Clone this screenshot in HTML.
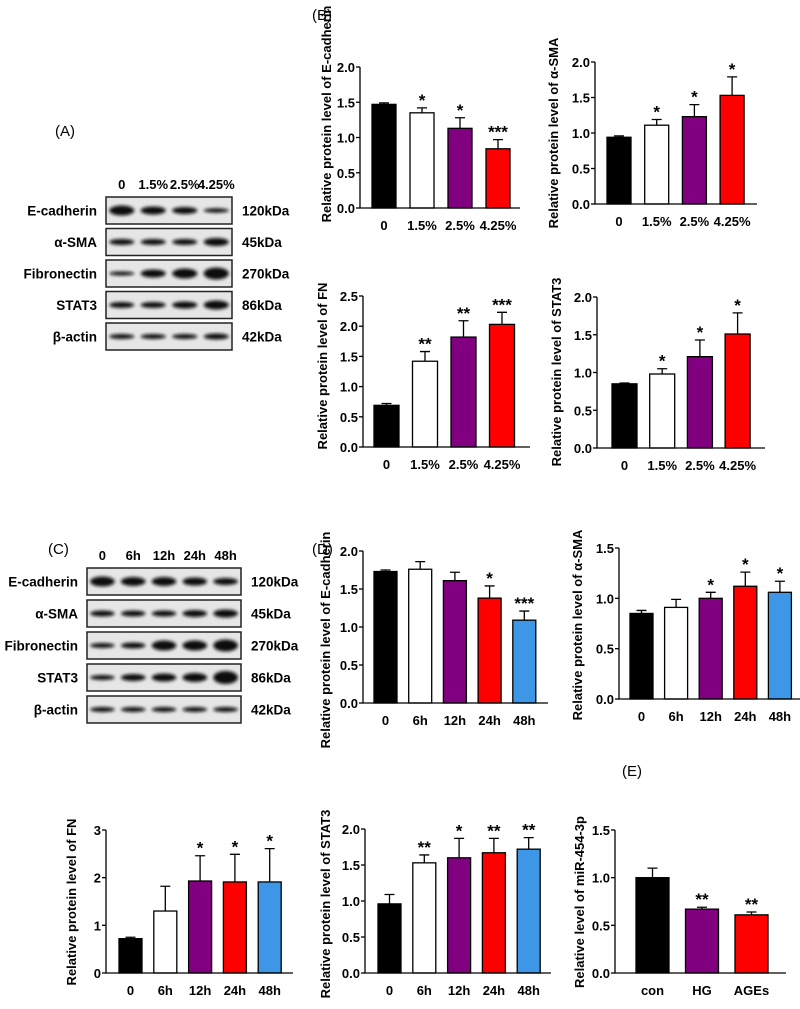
<!DOCTYPE html>
<html><head><meta charset="utf-8">
<style>
html,body{margin:0;padding:0;background:#fff;}
svg{display:block;font-family:"Liberation Sans",Arial,sans-serif;}
</style></head>
<body>
<svg id="fig" width="800" height="1009" viewBox="0 0 800 1009">
<defs>
<filter id="blur" x="-30%" y="-100%" width="160%" height="300%"><feGaussianBlur stdDeviation="1.6"/></filter>
</defs>
<text x="55" y="136" font-size="15">(A)</text>
<text x="312" y="20" font-size="15">(B)</text>
<text x="48" y="554" font-size="15">(C)</text>
<text x="312" y="554" font-size="15">(D)</text>
<text x="622" y="776" font-size="15">(E)</text>
<g id="blots"></g>
<g id="charts"></g>
</svg>
<script>
// ---- Chart data ----
const catsConc = ["0","1.5%","2.5%","4.25%"];
const catsTime = ["0","6h","12h","24h","48h"];
const catsE = ["con","HG","AGEs"];
const colsConc = ["#000000","#ffffff","#800080","#ff0000"];
const colsTime = ["#000000","#ffffff","#800080","#ff0000","#3d97e6"];
const colsE = ["#000000","#800080","#ff0000"];

const valsB1 = [1.47,1.35,1.13,0.84];
const errB1 = [0.02,0.07,0.15,0.13];
const starsB1 = ["","*","*","***"];
const valsB2 = [0.94,1.11,1.23,1.53];
const errB2 = [0.02,0.08,0.17,0.26];
const starsB2 = ["","*","*","*"];
const valsB3 = [0.69,1.42,1.82,2.03];
const errB3 = [0.03,0.16,0.27,0.20];
const starsB3 = ["","**","**","***"];
const valsB4 = [0.85,0.98,1.21,1.51];
const errB4 = [0.01,0.07,0.22,0.28];
const starsB4 = ["","*","*","*"];
const valsD1 = [1.73,1.76,1.61,1.38,1.09];
const errD1 = [0.02,0.10,0.11,0.16,0.12];
const starsD1 = ["","","","*","***"];
const valsD2 = [0.85,0.91,1.00,1.12,1.06];
const errD2 = [0.03,0.08,0.06,0.14,0.11];
const starsD2 = ["","","*","*","*"];
const valsD3 = [0.72,1.30,1.93,1.91,1.91];
const errD3 = [0.03,0.52,0.53,0.58,0.70];
const starsD3 = ["","","*","*","*"];
const valsD4 = [0.96,1.53,1.60,1.67,1.72];
const errD4 = [0.13,0.11,0.27,0.20,0.16];
const starsD4 = ["","**","*","**","**"];
const valsE = [1.00,0.67,0.61];
const errE = [0.10,0.02,0.03];
const starsE = ["","**","**"];

const ticks2 = ["0.0","0.5","1.0","1.5","2.0"];
const ticks25 = ["0.0","0.5","1.0","1.5","2.0","2.5"];
const ticks15 = ["0.0","0.5","1.0","1.5"];
const ticks3 = ["0","1","2","3"];

const NS = "http://www.w3.org/2000/svg";
function mk(tag, attrs, parent){const e=document.createElementNS(NS,tag);for(const k in attrs)e.setAttribute(k,attrs[k]);parent.appendChild(e);return e;}

function chart(o){
  const g = mk("g",{},document.getElementById("charts"));
  
  
  const max = parseFloat(o.ticks[o.ticks.length-1]);
  const ys = v => o.y0 - (v/max)*(o.y0-o.yTop);
  const xs = i => o.bx + i*o.sp;
  o.vals.forEach((v,i)=>{
    const x = xs(i), y = ys(v), ye = ys(v+o.err[i]);
    const eb = mk("path",{d:`M${x+o.bw/2} ${y}V${ye}M${x+o.bw/2-5} ${ye}H${x+o.bw/2+5}`,stroke:"#000","stroke-width":1.3,fill:"none"},g);
    
    
    const r = mk("rect",{x:x,y:y,width:o.bw,height:o.y0-y,fill:o.cols[i],stroke:"#000","stroke-width":1.3},g);
    
    
    if(o.stars[i]){
      const s = mk("text",{x:x+o.bw/2,y:ye-2,"font-size":17,"font-weight":"bold","text-anchor":"middle"},g);
      s.textContent = o.stars[i];
      
      
    }
    const t = mk("text",{x:x+o.bw/2,y:o.y0+22,"font-size":13,"font-weight":"bold","text-anchor":"middle"},g);
    t.textContent = o.cats[i];
    
    
  });
  const ax = mk("path",{d:`M${o.x0} ${o.yTop}V${o.y0}H${o.x1}`,stroke:"#000","stroke-width":1.3,fill:"none"},g);
  
  
  o.ticks.forEach(tk=>{
    const y = ys(parseFloat(tk));
    mk("line",{x1:o.x0-4,x2:o.x0,y1:y,y2:y,stroke:"#000","stroke-width":1.3},g);
    const t = mk("text",{x:o.x0-5,y:y+5,"font-size":13,"font-weight":"bold","text-anchor":"end"},g);
    t.textContent = tk;
    
    
  });
  const tt = mk("text",{x:0,y:0,"font-size":13,"font-weight":"bold","text-anchor":"middle",transform:`translate(${o.tx},${o.ty}) rotate(-90)`},g);
  tt.textContent = o.title;
  
  
}

chart({name:"chart-b-ecadherin",x0:360,x1:520,yTop:67,y0:208,ticks:ticks2,bx:372,sp:38,bw:24,vals:valsB1,err:errB1,stars:starsB1,cats:catsConc,cols:colsConc,title:"Relative protein level of E-cadherin",tx:331,ty:114});
chart({name:"chart-b-asma",x0:595,x1:757,yTop:62,y0:204,ticks:ticks2,bx:607,sp:37.7,bw:24,vals:valsB2,err:errB2,stars:starsB2,cats:catsConc,cols:colsConc,title:"Relative protein level of α-SMA",tx:558,ty:133});
chart({name:"chart-b-fn",x0:363,x1:530,yTop:296,y0:447,ticks:ticks25,bx:374,sp:38.5,bw:25,vals:valsB3,err:errB3,stars:starsB3,cats:catsConc,cols:colsConc,title:"Relative protein level of FN",tx:327,ty:366});
chart({name:"chart-b-stat3",x0:597,x1:765,yTop:297,y0:448,ticks:ticks2,bx:612,sp:37.7,bw:25,vals:valsB4,err:errB4,stars:starsB4,cats:catsConc,cols:colsConc,title:"Relative protein level of STAT3",tx:561,ty:372});
chart({name:"chart-d-ecadherin",x0:363,x1:548,yTop:551,y0:703,ticks:ticks2,bx:374,sp:34.7,bw:23,vals:valsD1,err:errD1,stars:starsD1,cats:catsTime,cols:colsTime,title:"Relative protein level of E-cadherin",tx:330,ty:640});
chart({name:"chart-d-asma",x0:619,x1:800,yTop:548,y0:699,ticks:ticks15,bx:630,sp:34.6,bw:23,vals:valsD2,err:errD2,stars:starsD2,cats:catsTime,cols:colsTime,title:"Relative protein level of α-SMA",tx:582,ty:625});
chart({name:"chart-d-fn",x0:106,x1:293,yTop:830,y0:973,ticks:ticks3,bx:119,sp:34.8,bw:23,vals:valsD3,err:errD3,stars:starsD3,cats:catsTime,cols:colsTime,title:"Relative protein level of FN",tx:76,ty:902});
chart({name:"chart-d-stat3",x0:365,x1:551,yTop:829,y0:973,ticks:ticks2,bx:378,sp:34.8,bw:23,vals:valsD4,err:errD4,stars:starsD4,cats:catsTime,cols:colsTime,title:"Relative protein level of STAT3",tx:330,ty:904});
chart({name:"chart-e-mir454",x0:615,x1:786,yTop:830,y0:973,ticks:ticks15,bx:636,sp:49.5,bw:33,vals:valsE,err:errE,stars:starsE,cats:catsE,cols:colsE,title:"Relative level of miR-454-3p",tx:584,ty:902});

// ---- Western blots ----
const rowsBlot = ["E-cadherin","α-SMA","Fibronectin","STAT3","β-actin"];
const kdaBlot = ["120kDa","45kDa","270kDa","86kDa","42kDa"];
const bandA = [[5,4,3.5,2.2],[3,3,3,4],[2,4,5,6],[3,3,3.5,4.5],[2.5,2.5,2.5,3]];
const bandC = [[5,4.5,4.5,4,3.5],[3,3,3,3.5,4],[2.5,3,5,5,6],[2.5,3.5,4,4.5,6.5],[2.5,2.5,2.5,2.5,2.5]];

function blot(o){
  const g = mk("g",{},document.getElementById("blots"));
  
  
  const n = o.lanes.length, lw = (o.x1-o.x0)/n;
  o.lanes.forEach((l,i)=>{
    const t = mk("text",{x:o.x0+(i+0.5)*lw,y:o.y0-8,"font-size":13,"font-weight":"bold","text-anchor":"middle"},g);
    t.textContent = l;
    
    
  });
  rowsBlot.forEach((r,j)=>{
    const y = o.y0 + j*o.pitch;
    const box = mk("rect",{x:o.x0,y:y,width:o.x1-o.x0,height:o.h,fill:"#e6e6e6",stroke:"#222","stroke-width":1.5},g);
    
    
    o.band[j].forEach((th,i)=>{
      const b = mk("ellipse",{cx:o.x0+(i+0.5)*lw,cy:y+o.h/2,rx:lw*0.4,ry:th,fill:"#111",filter:"url(#blur)"},g);
      
      
    });
    const lt = mk("text",{x:o.x0-9,y:y+o.h/2+5,"font-size":13.5,"font-weight":"bold","text-anchor":"end"},g);
    lt.textContent = r;
    
    
    const kt = mk("text",{x:o.x1+10,y:y+o.h/2+5,"font-size":13.5,"font-weight":"bold"},g);
    kt.textContent = kdaBlot[j];
    
    
  });
}
blot({name:"blot-a",x0:106,x1:232,y0:197,pitch:31.5,h:27,lanes:catsConc,band:bandA});
blot({name:"blot-c",x0:87,x1:241,y0:568,pitch:32,h:27,lanes:catsTime,band:bandC});
</script>
</body></html>
